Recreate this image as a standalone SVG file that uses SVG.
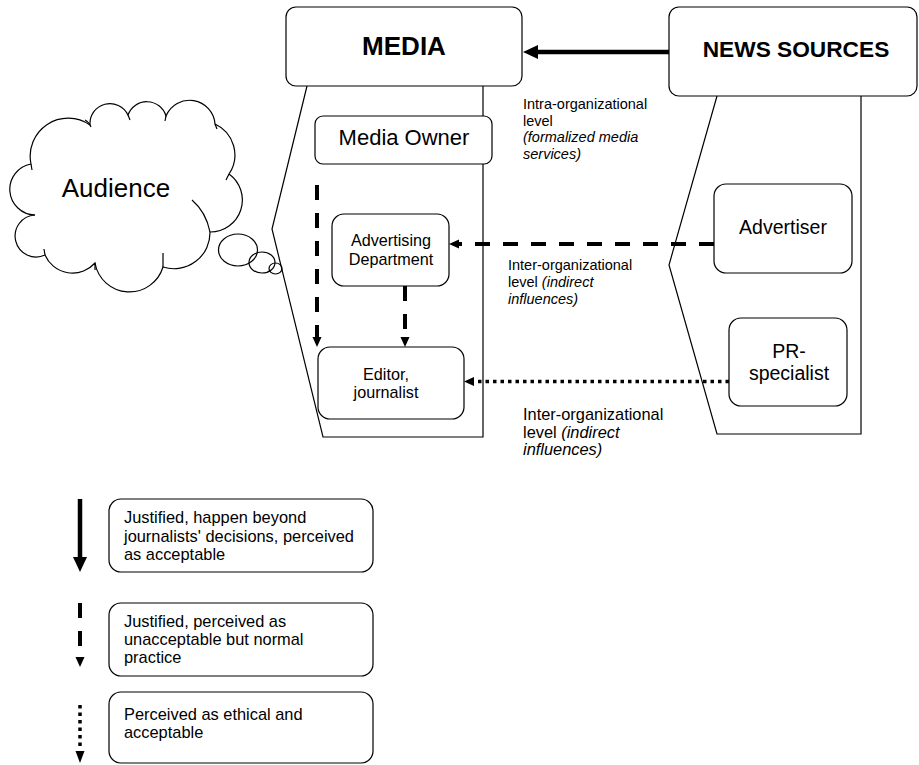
<svg xmlns="http://www.w3.org/2000/svg" width="919" height="765" viewBox="0 0 919 765">
<style>
  text { font-family: "Liberation Sans", Arial, sans-serif; fill: #000; }
  .box { fill: #fff; stroke: #000; stroke-width: 1.2; }
  .outline { fill: none; stroke: #000; stroke-width: 1.2; }
  .title { font-weight: bold; text-anchor: middle; }
  .mid { text-anchor: middle; }
  .solid { stroke: #000; stroke-width: 4.5; fill: none; }
  .dash { stroke: #000; stroke-width: 4; fill: none; stroke-dasharray: 15 13; }
  .dot { stroke: #000; stroke-width: 3.5; fill: none; stroke-dasharray: 3.5 4; }
  .lbl { font-size: 14.5px; }
  .lbl2 { font-size: 16.4px; }
  .leg { font-size: 16.4px; }
</style>
<defs>
  <marker id="bigHead" markerUnits="userSpaceOnUse" markerWidth="16" markerHeight="16" refX="0" refY="8" orient="auto" overflow="visible">
    <path d="M0,1 L15,8 L0,15 Z" fill="#000"/>
  </marker>
  <marker id="smallHead" markerUnits="userSpaceOnUse" markerWidth="11" markerHeight="10" refX="0" refY="5" orient="auto" overflow="visible">
    <path d="M0,0.5 L10,5 L0,9.5 Z" fill="#000"/>
  </marker>
</defs>

<!-- organisation outlines -->
<g id="media-frame">
  <polyline class="outline" points="307,86 272,229 323,437 483,437 483,86"/>
</g>
<g id="news-frame">
  <polyline class="outline" points="717,96 669,265 717,434 861,434 861,96"/>
</g>

<!-- Audience cloud -->
<g id="audience">
  <path class="box" d="M31,164 A38,38 0 0,1 90,125 A20,20 0 0,1 128,115 A20,20 0 0,1 166,116 A25.5,25.5 0 0,1 215,124 A34,34 0 0,1 229,174 A32,32 0 0,1 210,232 A36,36 0 0,1 163,267 A35,35 0 0,1 95,263 A30,30 0 0,1 45,255 A21,21 0 1,1 35,215 A25.7,25.7 0 0,1 31,164 Z"/>
  <path class="outline" d="M85,120 Q89,122 91,127 M128,115 L130,120 M166,116 L165,121 M215,124 L217,129 M229,174 L226,180 M192,200 Q206,212 210,232 M163,253 L163,267 M95,263 L95,270 M45,255 L44,249 M35,215 L31,215 M31,164 L32,170"/>
  <text x="116" y="197" class="mid" font-size="26">Audience</text>
  <ellipse class="outline" cx="238" cy="250" rx="19.5" ry="16"/>
  <ellipse class="outline" cx="262" cy="262.5" rx="13" ry="10.5"/>
  <ellipse class="outline" cx="275.5" cy="268.5" rx="6.5" ry="5.5"/>
</g>

<g id="media">
  <rect class="box" x="286" y="7" width="236" height="79" rx="10"/>
  <text x="404" y="55" class="title" font-size="26">MEDIA</text>
</g>
<g id="news-sources">
  <rect class="box" x="669" y="7" width="248" height="89" rx="10"/>
  <text x="796" y="57" class="title" font-size="22.7">NEWS SOURCES</text>
</g>
<g id="media-owner">
  <rect class="box" x="315" y="116" width="177" height="48" rx="8"/>
  <text x="404" y="145" class="mid" font-size="22">Media Owner</text>
</g>
<g id="advertising-department">
  <rect class="box" x="332" y="214" width="117" height="72" rx="12"/>
  <text x="391" y="246" class="mid" font-size="16.2">Advertising</text>
  <text x="391" y="265" class="mid" font-size="16.2">Department</text>
</g>
<g id="editor-journalist">
  <rect class="box" x="318" y="347" width="146" height="72" rx="12"/>
  <text x="386" y="380" class="mid" font-size="16.2">Editor,</text>
  <text x="386" y="398" class="mid" font-size="16.2">journalist</text>
</g>
<g id="advertiser">
  <rect class="box" x="714" y="184" width="138" height="89" rx="12"/>
  <text x="783" y="234" class="mid" font-size="19.5">Advertiser</text>
</g>
<g id="pr-specialist">
  <rect class="box" x="729" y="318" width="118" height="88" rx="12"/>
  <text x="789" y="358" class="mid" font-size="19.5">PR-</text>
  <text x="789" y="380" class="mid" font-size="19.5">specialist</text>
</g>

<!-- connectors -->
<g id="connectors">
  <line class="solid" x1="669" y1="52" x2="538" y2="52" marker-end="url(#bigHead)"/>
  <line class="dash" x1="714" y1="244" x2="459" y2="244" marker-end="url(#smallHead)"/>
  <line class="dash" x1="317" y1="185" x2="317" y2="337" marker-end="url(#smallHead)"/>
  <line class="dash" x1="405" y1="286" x2="405" y2="337" stroke-dasharray="24 10" marker-end="url(#smallHead)"/>
  <line class="dot" x1="729" y1="381.5" x2="474" y2="381.5" marker-end="url(#smallHead)"/>
</g>

<!-- level labels -->
<g id="label-intra">
  <text class="lbl" x="523" y="109">Intra-organizational</text>
  <text class="lbl" x="523" y="125.5">level</text>
  <text class="lbl" x="523" y="142" font-style="italic">(formalized media</text>
  <text class="lbl" x="523" y="158.5" font-style="italic">services)</text>
</g>
<g id="label-inter-1">
  <text class="lbl" x="508" y="270">Inter-organizational</text>
  <text class="lbl" x="508" y="287">level <tspan font-style="italic">(indirect</tspan></text>
  <text class="lbl" x="508" y="304" font-style="italic">influences)</text>
</g>
<g id="label-inter-2">
  <text class="lbl2" x="523" y="420">Inter-organizational</text>
  <text class="lbl2" x="523" y="437.5">level <tspan font-style="italic">(indirect</tspan></text>
  <text class="lbl2" x="523" y="455" font-style="italic">influences)</text>
</g>

<!-- legend -->
<g id="legend-solid">
  <line class="solid" x1="80" y1="499" x2="80" y2="557" stroke-width="4" marker-end="url(#bigHead)"/>
  <rect class="box" x="109" y="499" width="264" height="73" rx="12"/>
  <text class="leg" x="124" y="523">Justified, happen beyond</text>
  <text class="leg" x="124" y="541.5">journalists' decisions, perceived</text>
  <text class="leg" x="124" y="560">as acceptable</text>
</g>
<g id="legend-dashed">
  <line class="dash" x1="80" y1="603" x2="80" y2="657" stroke-dasharray="14 15"/>
  <path d="M75.5,657 L84.5,657 L80,667 Z" fill="#000"/>
  <rect class="box" x="109" y="603" width="264" height="73" rx="12"/>
  <text class="leg" x="124" y="627">Justified, perceived as</text>
  <text class="leg" x="124" y="645">unacceptable but normal</text>
  <text class="leg" x="124" y="663">practice</text>
</g>
<g id="legend-dotted">
  <line class="dot" x1="80" y1="705" x2="80" y2="750" stroke-dasharray="3.5 3.2"/>
  <path d="M75.5,751 L84.5,751 L80,763 Z" fill="#000"/>
  <rect class="box" x="109" y="692" width="264" height="71" rx="12"/>
  <text class="leg" x="124" y="720">Perceived as ethical and</text>
  <text class="leg" x="124" y="738">acceptable</text>
</g>
</svg>
